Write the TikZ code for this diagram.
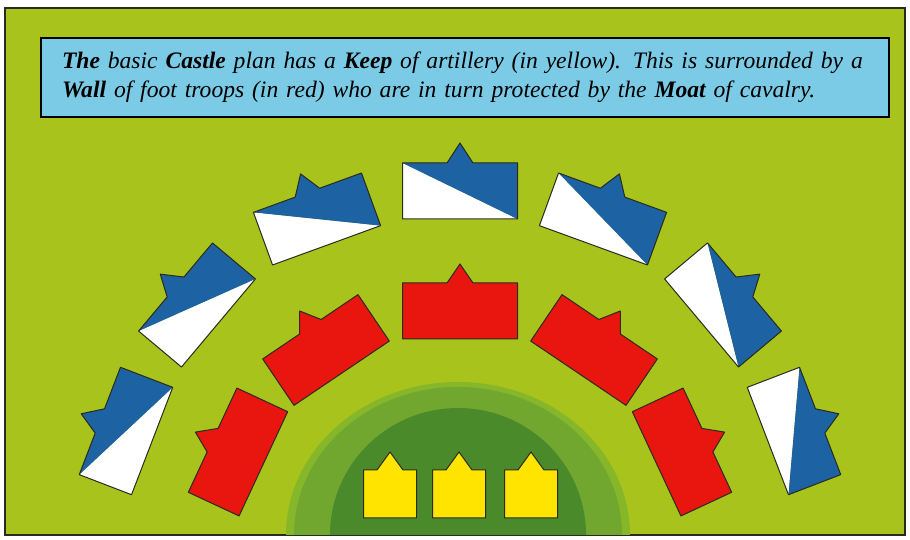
\documentclass[tikz,border=0pt]{standalone}
\usepackage{fontspec}
\setmainfont{Liberation Serif}
\usepackage{tikz}
\definecolor{CastleLime}{HTML}{A8C31B}
\definecolor{CastleSky}{HTML}{7CCBE6}
\definecolor{CastleBlue}{HTML}{1D62A2}
\definecolor{CastleRed}{HTML}{E8160E}
\definecolor{CastleYellow}{HTML}{FFE400}
\definecolor{CastleMoss}{HTML}{4B8A2B}
\definecolor{CastleFern}{HTML}{72A72F}
\definecolor{CastleLeaf}{HTML}{86B62A}
\definecolor{CastleInk}{HTML}{2A2A1E}

\begin{document}
\begin{tikzpicture}[x=1pt,y=1pt,
    rim/.style={CastleInk,line width=1pt,line join=round}]
  \useasboundingbox (0,0) rectangle (910,540);
  \fill[CastleLime] (5,5) rectangle (905,532);
  \draw[CastleInk,line width=1.2pt] (5,5) rectangle (905,532);
  \fill[CastleLeaf] (286,5) arc[start angle=180,end angle=0,x radius=172pt,y radius=153pt] -- cycle;
  \fill[CastleFern] (294,5) arc[start angle=180,end angle=0,x radius=164pt,y radius=148pt] -- cycle;
  \fill[CastleMoss] (330,5) arc[start angle=180,end angle=0,x radius=128pt,y radius=127pt] -- cycle;
  \node[draw=black,line width=1.6pt,fill=CastleSky,text width=806pt,align=left,
    inner xsep=21pt,minimum height=79pt,font=\fontsize{23.6}{29}\selectfont\itshape]
    (note) at (465,462.5) {\textbf{The} basic \textbf{Castle} plan has a \textbf{Keep} of artillery (in yellow). This is surrounded by a\\
    \textbf{Wall} of foot troops (in red) who are in turn protected by the \textbf{Moat} of cavalry.};
  \def\horse#1#2#3{
    \begin{scope}[shift={(#1,#2)},rotate=#3]
      \fill[white] (-57.5,28) -- (57.5,-28) -- (-57.5,-28) -- cycle;
      \fill[CastleBlue] (-57.5,28) -- (-13,28) -- (0,48) -- (13,28) -- (57.5,28) -- (57.5,-28) -- cycle;
      \draw[rim] (-57.5,-28) -- (-57.5,28) -- (-13,28) -- (0,48) -- (13,28) -- (57.5,28) -- (57.5,-28) -- cycle;
    \end{scope}
  }
  \def\troop#1#2#3{
    \begin{scope}[shift={(#1,#2)},rotate=#3]
      \filldraw[rim,fill=CastleRed] (-57.5,-28) -- (-57.5,28) -- (-13,28) -- (0,47) -- (13,28) -- (57.5,28) -- (57.5,-28) -- cycle;
    \end{scope}
  }
  \def\cannon#1{
    \filldraw[rim,fill=CastleYellow] (#1-26.5,22) -- (#1-26.5,70) -- (#1-13,70) -- (#1,88) -- (#1+13,70) -- (#1+26.5,70) -- (#1+26.5,22) -- cycle;
  }
  \horse{126}{109}{69}
  \horse{197}{235}{50}
  \horse{317}{321}{20}
  \horse{460}{349}{0}
  \horse{603}{321}{-20}
  \horse{723}{235}{-50}
  \horse{794}{109}{-69}
  \troop{238}{88}{65}
  \troop{326}{190}{34}
  \troop{460}{229}{0}
  \troop{594}{190}{-34}
  \troop{682}{88}{-65}
  \cannon{390}
  \cannon{459}
  \cannon{531}
\end{tikzpicture}
\end{document}
